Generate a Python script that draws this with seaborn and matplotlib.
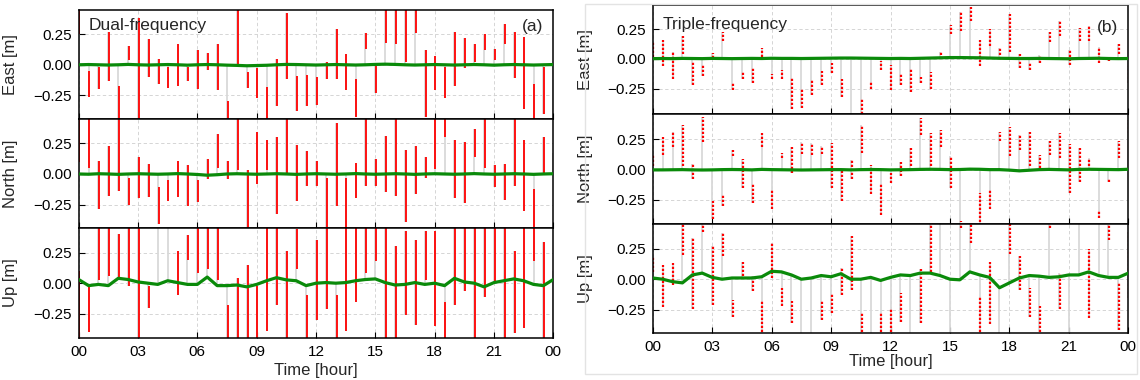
import numpy as np
import matplotlib
matplotlib.use("Agg")
import matplotlib.pyplot as plt
import seaborn as sns
from matplotlib.patches import Rectangle

# ---------------- data ----------------
reset_hours = [0.0, 0.5, 1.0, 1.5, 2.0, 2.5, 3.0, 3.5, 4.0, 4.5, 5.0, 5.5, 6.0, 6.5,
               7.0, 7.5, 8.0, 8.5, 9.0, 9.5, 10.0, 10.5, 11.0, 11.5, 12.0, 12.5, 13.0,
               13.5, 14.0, 14.5, 15.0, 15.5, 16.0, 16.5, 17.0, 17.5, 18.0, 18.5, 19.0,
               19.5, 20.0, 20.5, 21.0, 21.5, 22.0, 22.5, 23.0, 23.5, 24.0]
xtick_pos = [0, 3, 6, 9, 12, 15, 18, 21, 24]
xtick_labels = ["00", "03", "06", "09", "12", "15", "18", "21", "00"]
ytick_pos = [-0.25, 0.0, 0.25]
ytick_labels = ["\u22120.25", "0.00", "0.25"]
components = ["East [m]", "North [m]", "Up [m]"]
panel_titles = ["Dual-frequency", "Triple-frequency"]
panel_tags = ["(a)", "(b)"]

# red (convergence) segments: upper and lower value at each re-initialisation
dual_east_hi = [0.50, -0.05, -0.02, 0.27, -0.17, 0.15, 0.38, 0.21, 0.05, -0.02, 0.17, -0.02, 0.12, 0.10,
                0.17, -0.30, 0.50, -0.06, -0.03, -0.18, 0.05, 0.42, -0.09, -0.08, -0.10, 0.02, 0.29,
                0.09, -0.12, 0.26, -0.01, 0.50, 0.50, 0.50, 0.50, 0.12, 0.07, -0.02, 0.27,
                0.22, 0.17, 0.25, 0.13, 0.33, 0.27, 0.23, -0.16, -0.02, -0.40]
dual_east_lo = [0.25, -0.26, -0.20, -0.13, -0.50, 0.04, -0.50, -0.10, -0.16, -0.19, -0.17, -0.13, -0.20, -0.04,
                -0.21, -0.50, 0.01, -0.19, -0.27, -0.50, -0.34, -0.12, -0.38, -0.34, -0.33, -0.12, -0.12,
                -0.21, -0.43, 0.13, -0.23, 0.18, 0.17, 0.02, 0.26, -0.43, -0.21, -0.27, -0.17,
                -0.03, 0.02, 0.12, 0.04, 0.17, -0.11, -0.36, -0.50, -0.40, -0.50]
dual_north_hi = [0.50, 0.50, 0.11, 0.23, 0.50, -0.03, 0.14, 0.08, -0.11, -0.05, 0.11, 0.07, -0.05, 0.12,
                 0.33, 0.11, 0.50, 0.03, 0.34, 0.28, 0.30, 0.50, 0.24, 0.19, 0.11, -0.03, 0.42,
                 -0.03, 0.09, 0.50, 0.12, 0.31, 0.50, 0.20, 0.23, 0.14, 0.50, 0.50, 0.28,
                 0.26, 0.37, 0.50, 0.07, 0.08, 0.50, 0.28, -0.12, 0.30, 0.17]
dual_north_lo = [0.10, 0.05, -0.29, -0.18, -0.14, -0.25, -0.20, -0.19, -0.41, -0.22, -0.19, -0.26, -0.23, -0.04,
                 0.05, -0.04, 0.03, -0.44, -0.08, 0.03, -0.33, 0.00, -0.22, -0.10, -0.10, -0.43, -0.26,
                 -0.50, -0.20, -0.10, -0.10, -0.15, -0.18, -0.39, -0.16, -0.03, 0.04, 0.30, -0.20,
                 -0.24, 0.14, 0.05, -0.11, -0.21, -0.10, -0.30, -0.43, 0.00, 0.06]
dual_up_hi = [0.10, -0.03, 0.50, 0.50, 0.40, 0.50, 0.50, -0.02, 0.60, 0.60, 0.26, 0.39, 0.50, 0.50,
              0.50, -0.18, 0.04, 0.15, -0.02, 0.50, 0.50, 0.26, 0.44, -0.10, 0.35, 0.50, -0.10,
              0.50, 0.50, 0.50, 0.50, 0.50, 0.30, 0.43, 0.35, 0.43, 0.43, -0.15, 0.50,
              0.50, 0.50, 0.50, 0.50, 0.50, 0.26, 0.50, 0.50, 0.34, 0.10]
dual_up_lo = [-0.50, -0.40, 0.03, 0.06, 0.03, -0.02, -0.50, -0.20, 0.50, 0.50, -0.10, 0.19, 0.08, 0.12,
              0.03, -0.50, -0.50, -0.50, -0.50, -0.39, -0.18, -0.50, 0.12, -0.50, -0.30, -0.21, -0.50,
              -0.39, -0.15, 0.08, 0.18, -0.50, -0.50, -0.26, -0.34, 0.03, -0.35, -0.50, -0.18,
              -0.06, -0.50, -0.11, 0.00, -0.50, -0.41, -0.37, 0.18, -0.50, -0.30]

tri_east_hi = [0.14, 0.16, 0.06, 0.19, -0.02, -0.05, 0.05, 0.23, -0.20, -0.10, -0.08, 0.09, -0.13, -0.09,
               -0.16, -0.25, -0.18, -0.10, -0.03, -0.17, -0.50, -0.33, -0.19, -0.02, -0.05, -0.12, -0.08,
               -0.15, -0.11, 0.06, 0.29, 0.40, 0.44, 0.16, 0.25, 0.09, 0.38, 0.04, -0.03,
               0.03, 0.23, 0.32, 0.08, 0.26, 0.28, 0.10, 0.00, 0.13, -0.06]
tri_east_lo = [0.02, -0.06, -0.17, 0.04, -0.22, -0.14, 0.01, 0.15, -0.26, -0.17, -0.20, 0.02, -0.17, -0.17,
               -0.42, -0.41, -0.30, -0.22, -0.12, -0.32, -0.60, -0.50, -0.25, -0.09, -0.26, -0.22, -0.28,
               -0.20, -0.25, 0.00, 0.21, 0.24, 0.32, -0.06, 0.11, 0.03, 0.06, -0.08, -0.09,
               -0.03, 0.14, 0.19, -0.05, 0.15, 0.15, -0.03, -0.02, 0.04, -0.20]
tri_north_hi = [0.12, 0.27, 0.31, 0.37, 0.05, 0.44, -0.26, -0.21, 0.16, 0.09, -0.11, 0.30, -0.16, 0.14,
                0.19, 0.23, 0.22, 0.20, 0.22, -0.01, 0.08, 0.37, 0.04, -0.12, -0.03, 0.06, 0.18,
                0.43, 0.30, 0.33, 0.11, -0.43, 0.00, -0.19, -0.16, 0.31, 0.35, 0.29, 0.31,
                0.12, 0.24, 0.30, 0.21, 0.18, 0.10, -0.34, -0.08, 0.24, 0.41]
tri_north_lo = [0.03, 0.12, 0.19, 0.03, -0.08, 0.23, -0.41, -0.30, 0.11, -0.15, -0.28, 0.19, -0.33, 0.10,
                -0.03, 0.13, 0.12, 0.13, -0.15, -0.26, -0.08, 0.14, -0.20, -0.38, -0.11, -0.05, 0.03,
                0.29, 0.03, 0.19, -0.15, -0.50, 0.00, -0.50, -0.33, 0.24, 0.11, 0.16, 0.03,
                0.01, 0.12, 0.10, -0.19, -0.10, 0.03, -0.40, -0.10, 0.10, 0.30]
tri_up_hi = [0.19, 0.12, 0.13, 0.50, 0.34, 0.50, 0.27, 0.38, -0.17, 0.14, 0.03, -0.17, 0.30, -0.07,
             -0.18, -0.60, -0.60, -0.17, -0.11, 0.09, 0.35, -0.28, -0.60, -0.28, -0.24, -0.11, -0.60,
             0.08, 0.50, 0.60, -0.60, 0.50, 0.50, -0.14, 0.14, -0.60, 0.50, 0.19, -0.07,
             -0.22, 0.50, 0.05, -0.60, 0.60, 0.25, 0.60, 0.44, -0.02, 0.39]
tri_up_lo = [0.06, -0.23, -0.05, 0.20, -0.24, 0.39, -0.21, 0.19, -0.31, 0.03, -0.10, -0.50, 0.01, -0.22,
             -0.36, -0.50, -0.50, -0.33, -0.28, -0.13, -0.09, -0.50, -0.50, -0.50, -0.50, -0.35, -0.50,
             -0.36, 0.06, 0.50, -0.50, 0.42, 0.30, -0.50, -0.37, -0.50, 0.21, -0.09, -0.31,
             -0.43, 0.42, -0.24, -0.50, 0.50, -0.32, 0.50, 0.32, -0.42, -0.15]

# green (converged) solution, half-hourly
dual_east_fix = [0.000, 0.002, 0.000, -0.002, 0.000, 0.003, 0.000, -0.002, 0.000, 0.002, 0.000, -0.003, 0.000, 0.002,
                 0.000, -0.003, -0.005, -0.008, -0.006, -0.004, 0.000, 0.003, 0.002, 0.000, -0.002, 0.000, 0.002,
                 0.000, -0.002, 0.000, 0.003, 0.005, 0.003, 0.000, -0.002, 0.000, 0.002, 0.000, -0.002,
                 0.000, 0.002, 0.000, -0.003, 0.000, 0.002, 0.000, -0.002, 0.000, 0.002]
dual_north_fix = [0.000, -0.002, 0.002, 0.000, -0.003, 0.000, 0.002, 0.000, -0.002, 0.000, 0.003, 0.000, -0.004, -0.010,
                  -0.006, 0.000, 0.002, 0.000, -0.002, 0.000, 0.002, 0.000, -0.003, 0.000, 0.002, 0.000, -0.002,
                  0.000, 0.003, 0.000, -0.002, 0.000, 0.002, 0.000, -0.003, 0.000, 0.002, 0.000, -0.002,
                  0.000, 0.003, 0.000, -0.002, 0.000, 0.002, 0.000, -0.003, 0.000, 0.002]
dual_up_fix = [0.030, -0.020, -0.010, -0.020, 0.040, 0.030, 0.010, 0.000, -0.010, 0.020, 0.005, -0.010, -0.010, 0.050,
               -0.020, -0.020, -0.015, -0.030, -0.010, 0.020, 0.045, 0.027, 0.020, -0.020, 0.000, 0.005, 0.000,
               0.005, 0.020, 0.030, 0.035, 0.005, -0.015, -0.010, 0.005, -0.010, 0.000, -0.020, 0.040,
               0.010, 0.000, -0.030, 0.005, 0.020, 0.035, 0.020, -0.010, -0.020, 0.030]
tri_east_fix = [0.003, 0.004, 0.003, 0.005, 0.004, 0.003, 0.005, 0.004, 0.003, 0.004, 0.005, 0.004, 0.006, 0.005,
                0.005, 0.004, 0.005, 0.006, 0.007, 0.008, 0.008, 0.007, 0.006, 0.005, 0.004, 0.005, 0.004,
                0.006, 0.008, 0.010, 0.012, 0.012, 0.011, 0.010, 0.008, 0.006, 0.005, 0.004, 0.004,
                0.005, 0.004, 0.003, 0.002, 0.004, 0.005, 0.006, 0.004, 0.003, 0.004]
tri_north_fix = [-0.002, -0.002, -0.001, 0.000, -0.002, -0.003, -0.002, 0.000, 0.001, 0.000, -0.002, 0.002, 0.000, -0.001,
                 -0.002, -0.003, -0.002, -0.001, 0.000, 0.000, -0.002, 0.000, 0.001, 0.000, -0.002, -0.001, 0.000,
                 0.002, 0.003, 0.002, 0.000, 0.001, 0.004, 0.003, 0.000, 0.000, -0.004, -0.010, -0.005,
                 0.000, 0.002, 0.000, -0.002, 0.002, 0.003, 0.002, 0.001, 0.000, 0.003]
tri_up_fix = [0.010, 0.000, -0.020, -0.030, 0.035, 0.050, 0.015, 0.000, 0.010, 0.010, 0.010, 0.020, 0.065, 0.060,
              0.035, 0.000, 0.010, 0.030, 0.020, 0.045, 0.000, 0.000, 0.015, -0.010, 0.015, 0.035, 0.030,
              0.050, 0.050, 0.030, 0.000, -0.005, 0.060, 0.035, 0.015, -0.070, -0.030, 0.010, 0.030,
              0.025, 0.015, 0.020, 0.035, 0.035, 0.060, 0.030, 0.015, 0.015, 0.050]

panels = [
    [(dual_east_hi, dual_east_lo, dual_east_fix),
     (dual_north_hi, dual_north_lo, dual_north_fix),
     (dual_up_hi, dual_up_lo, dual_up_fix)],
    [(tri_east_hi, tri_east_lo, tri_east_fix),
     (tri_north_hi, tri_north_lo, tri_north_fix),
     (tri_up_hi, tri_up_lo, tri_up_fix)],
]

# ---------------- style ----------------
sns.set_style("white")
plt.rcParams["font.family"] = ["Liberation Sans", "DejaVu Sans"]
plt.rcParams["axes.unicode_minus"] = True

W, H = 1140, 380
fig = plt.figure(figsize=(W / 100, H / 100), dpi=100)


def fx(px):
    return px / W


def fy(py):
    return 1 - py / H


geom = [
    dict(left=78.7, right=553.3, rows=[(10, 119.2), (119.2, 228.4), (228.4, 337.6)],
         ylims=[(-0.445, 0.448), (-0.445, 0.448), (-0.445, 0.448)], red_ls="-", red_lw=1.3,
         ylab_x=-0.128, xlab_pad=3),
    dict(left=652.7, right=1128.3, rows=[(5, 114.4), (114.4, 223.9), (223.9, 333.3)],
         ylims=[(-0.468, 0.456), (-0.45, 0.458), (-0.443, 0.453)], red_ls=(0, (1, 0.8)), red_lw=1.6,
         ylab_x=-0.125, xlab_pad=0),
]

# light frame around panel (b)
fig.patches.append(Rectangle((fx(585), fy(374)), fx(1137 - 585), fy(4) - fy(374),
                             transform=fig.transFigure, fill=False, edgecolor="#e3e3e3",
                             lw=1.0, zorder=0))

t = np.array(reset_hours)
for p, g in enumerate(geom):
    for r, (top, bot) in enumerate(g["rows"]):
        ax = fig.add_axes([fx(g["left"]), fy(bot), fx(g["right"] - g["left"]), fy(top) - fy(bot)])
        hi, lo, fix = panels[p][r]
        hi = np.array(hi)
        lo = np.array(lo)
        fix = np.array(fix)
        # grey connectors from converged solution to the re-initialised one
        ax.vlines(t, np.minimum(fix, lo), np.maximum(fix, hi), colors="#d9d9d9", lw=1.3, zorder=1)
        # red convergence periods
        ax.vlines(t + 0.04, lo, hi, colors="#ff0000", lw=g["red_lw"], linestyles=g["red_ls"], zorder=2)
        # green converged solution
        sns.lineplot(x=t, y=fix, ax=ax, color="#0a8a0a", lw=2.3, zorder=3)
        ax.set_xlim(0, 24)
        ax.set_ylim(*g["ylims"][r])
        ax.set_xticks(xtick_pos)
        ax.set_yticks(ytick_pos)
        ax.set_yticklabels(ytick_labels, fontsize=11)
        if r == 2:
            ax.set_xticklabels(xtick_labels, fontsize=11)
            ax.set_xlabel("Time [hour]", fontsize=12, labelpad=g["xlab_pad"])
        else:
            ax.set_xticklabels([])
            ax.set_xlabel("")
        ax.set_ylabel(components[r], fontsize=12)
        ax.yaxis.set_label_coords(g["ylab_x"], 0.5)
        ax.tick_params(axis="both", direction="in", length=4, width=0.8, pad=5,
                       colors="black", left=True, bottom=True)
        ax.grid(True, color="#cfcfcf", ls=(0, (4, 3)), lw=0.6)
        ax.set_axisbelow(True)
        for s in ax.spines.values():
            s.set_color("black")
            s.set_linewidth(1.1)
        if r == 0:
            ty = 0.856 if p == 0 else 0.82
            ax.text(0.02, ty, panel_titles[p], transform=ax.transAxes, fontsize=12.5,
                    ha="left", va="center", zorder=5)
            ax.text(0.979, ty - 0.01 if p == 0 else 0.79, panel_tags[p], transform=ax.transAxes,
                    fontsize=12.5, ha="right", va="center", zorder=5)

fig.savefig("out.png", dpi=100)
